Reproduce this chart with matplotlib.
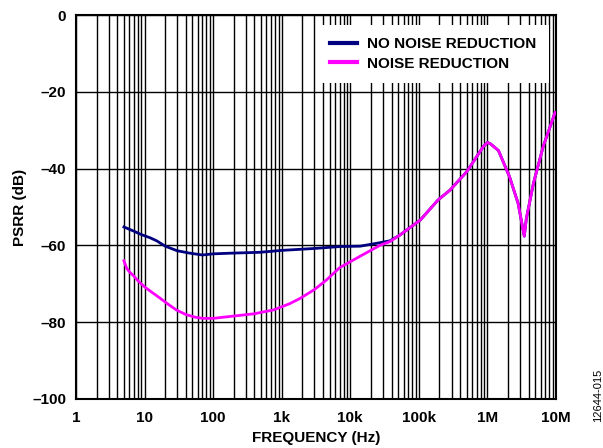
import matplotlib
matplotlib.use('Agg')
import matplotlib.pyplot as plt
from matplotlib.ticker import LogLocator, FixedLocator, NullFormatter

plt.rcParams['font.family'] = ['Liberation Sans', 'DejaVu Sans']

# no noise reduction (blue)
f_nonr = [5, 6, 7, 8.5, 10, 12, 15, 20, 30, 45, 70, 100, 200, 480, 1000, 3000,
          7000, 14000, 27000, 38000, 53000, 105000, 190000, 285000, 500000,
          870000, 1000000, 1100000, 1450000, 2100000, 2800000, 3450000,
          3700000, 4700000, 6500000, 9700000]
psrr_nonr = [-55.2, -55.8, -56.3, -57.0, -57.5, -58.0, -58.8, -60.2, -61.4, -62.0,
             -62.5, -62.2, -62.0, -61.8, -61.3, -60.8, -60.3, -60.2, -59.3, -58.8,
             -57.3, -53.4, -48.2, -45.6, -40.8, -34.3, -33.2, -33.5, -35.3, -42.1,
             -49.0, -57.6, -53.0, -43.8, -34.3, -25.4]

# noise reduction (magenta)
f_nr = [5, 5.5, 6.1, 7, 8, 10, 13, 17, 22, 29, 40, 55, 71, 100, 200, 400, 760,
        1300, 1860, 3000, 4500, 7000, 14000, 27000, 38000, 53000, 105000, 190000,
        285000, 500000, 870000, 1000000, 1100000, 1450000, 2100000, 2800000,
        3450000, 3700000, 4700000, 6500000, 9700000]
psrr_nr = [-64.0, -66.0, -67.0, -68.0, -69.2, -70.8, -72.3, -73.8, -75.3, -76.8,
           -78.0, -78.7, -79.0, -79.0, -78.4, -77.8, -76.8, -75.2, -73.8, -71.5,
           -69.0, -65.8, -62.8, -60.0, -59.0, -57.3, -53.4, -48.2, -45.6, -40.8,
           -34.3, -33.2, -33.5, -35.3, -42.1, -49.0, -57.6, -53.0, -43.8, -34.3,
           -25.4]

xticks = [1, 10, 100, 1e3, 1e4, 1e5, 1e6, 1e7]
xlabels = ['1', '10', '100', '1k', '10k', '100k', '1M', '10M']
yticks = [0, -20, -40, -60, -80, -100]
ylabels = ['0', '–20', '–40', '–60', '–80', '–100']

fs = 11

fig = plt.figure(figsize=(6.03, 4.48), dpi=100)
ax = fig.add_axes([0.126, 0.1094, 0.796, 0.8571])

ax.plot(f_nonr, psrr_nonr, color='#000080', lw=2, label='NO NOISE REDUCTION', zorder=3)
ax.plot(f_nr, psrr_nr, color='#FF00FF', lw=2, label='NOISE REDUCTION', zorder=4)

ax.set_xscale('log')
ax.set_xlim(1, 1e7)
ax.set_ylim(-100, 0)
ax.xaxis.set_major_locator(FixedLocator(xticks))
ax.set_xticklabels(xlabels)
ax.xaxis.set_minor_locator(LogLocator(base=10, subs=range(2, 10), numticks=20))
ax.xaxis.set_minor_formatter(NullFormatter())
ax.set_yticks(yticks)
ax.set_yticklabels(ylabels)

ax.grid(True, which='both', axis='x', color='black', lw=1)
ax.grid(True, which='major', axis='y', color='black', lw=1)
ax.tick_params(which='both', length=0, labelsize=fs)
ax.tick_params(axis='x', pad=9)
ax.tick_params(axis='y', pad=7)
for lab in ax.get_xticklabels() + ax.get_yticklabels():
    lab.set_fontweight('bold')
for s in ax.spines.values():
    s.set_linewidth(1.5)

ax.set_xlabel('FREQUENCY (Hz)', fontsize=fs, fontweight='bold', labelpad=4)
ax.set_ylabel('PSRR (dB)', fontsize=fs, fontweight='bold', labelpad=4)

leg = ax.legend(loc='upper right', bbox_to_anchor=(0.985, 0.974), fontsize=fs,
                handlelength=1.8, handletextpad=0.65, labelspacing=0.35,
                borderpad=0.8, frameon=True, fancybox=False, borderaxespad=0)
leg.get_frame().set_edgecolor('none')
leg.get_frame().set_facecolor('white')
leg.get_frame().set_alpha(1)
for t in leg.get_texts():
    t.set_fontweight('bold')
for h in leg.legend_handles:
    h.set_linewidth(3)

fig.text(598 / 603, 1 - 395 / 448, '12644-015', rotation=90, fontsize=8,
         ha='center', va='center')

fig.savefig('out.png', dpi=100)
